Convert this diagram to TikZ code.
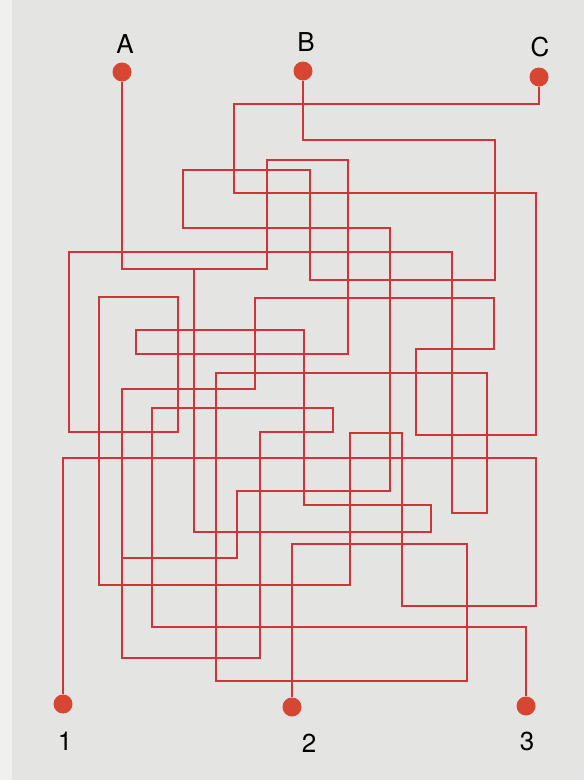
\documentclass[tikz,border=0pt]{standalone}
\usepackage{fontspec}
\setmainfont{TeX Gyre Heros}
\definecolor{paper}{RGB}{228,228,226}
\definecolor{paperedge}{RGB}{240,240,239}
\definecolor{wire}{RGB}{206,52,58}
\definecolor{dotc}{RGB}{214,70,50}
\begin{document}
\begin{tikzpicture}[x=1pt,y=-1pt,
  wirestyle/.style={draw=wire,line width=1.7pt},
  dotstyle/.style={circle,fill=dotc,minimum size=19pt,inner sep=0pt},
  labelstyle/.style={font=\fontsize{26}{26}\selectfont,text=black,inner sep=0pt}]
\useasboundingbox (0,0) rectangle (584,780);
\fill[paper] (0,0) rectangle (584,780);
\fill[paperedge] (0,0) rectangle (12,780);
% terminals
\node[dotstyle] (A) at (122,72) {};
\node[dotstyle] (B) at (303,71) {};
\node[dotstyle] (C) at (539,77) {};
\node[dotstyle] (n1) at (63,704) {};
\node[dotstyle] (n2) at (292,707) {};
\node[dotstyle] (n3) at (526,706) {};
% labels
\node[labelstyle] (lA) at (125,44) {A};
\node[labelstyle] (lB) at (306,42) {B};
\node[labelstyle] (lC) at (540,47) {C};
\node[labelstyle] (l1) at (65,741) {1};
\node[labelstyle] (l2) at (309,743) {2};
\node[labelstyle] (l3) at (527,741) {3};
% path from A
\draw[wirestyle] (A) -- (122,269) -- (267,269) -- (267,160) -- (348,160) -- (348,354)
  -- (136,354) -- (136,330) -- (304,330) -- (304,505) -- (431,505) -- (431,532)
  -- (194,532) -- (194,269);
% path from B
\draw[wirestyle] (B) -- (303,140) -- (495,140) -- (495,280) -- (310,280) -- (310,170)
  -- (183,170) -- (183,228) -- (390,228) -- (390,491) -- (237,491) -- (237,558)
  -- (122,558);
% path from C to 3
\draw[wirestyle] (C) -- (539,104) -- (234,104) -- (234,193) -- (536,193) -- (536,435)
  -- (416,435) -- (416,349) -- (494,349) -- (494,298) -- (255,298) -- (255,389)
  -- (122,389) -- (122,658) -- (260,658) -- (260,432) -- (333,432) -- (333,408)
  -- (152,408) -- (152,627) -- (526,627) -- (n3);
% path from 1 to 2
\draw[wirestyle] (n1) -- (63,458) -- (536,458) -- (536,606) -- (402,606) -- (402,433)
  -- (350,433) -- (350,585) -- (99,585) -- (99,297) -- (178,297) -- (178,432)
  -- (69,432) -- (69,252) -- (452,252) -- (452,513) -- (487,513) -- (487,373)
  -- (216,373) -- (216,681) -- (467,681) -- (467,544) -- (292,544) -- (n2);
\end{tikzpicture}
\end{document}
